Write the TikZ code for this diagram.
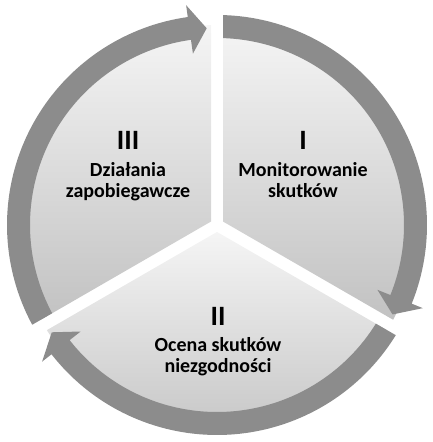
\documentclass[tikz,border=0pt]{standalone}
\usepackage{fontspec}
\setmainfont{Carlito}

\begin{document}
\begin{tikzpicture}[x=1pt,y=1pt]
  \tikzset{
    sektor/.style={
      top color=black!4,
      bottom color=black!24,
      draw=none
    },
    strzalka/.style={
      fill=black!45,
      draw=none
    },
    numer/.style={
      font=\bfseries\fontsize{28}{28}\selectfont,
      anchor=base,
      inner sep=0pt
    },
    opis/.style={
      font=\bfseries\fontsize{20}{21.5}\selectfont,
      align=center,
      anchor=base,
      inner sep=0pt
    }
  }

  \useasboundingbox (0,0) rectangle (433,442);
  \coordinate (S) at (217,217);

  % trzy wycinki kola
  \foreach \a in {90,-30,210} {
    \path[sektor] ([shift={(S)}]\a-60:6.93) -- ([shift={(S)}]\a-1.72:200)
      arc[start angle=\a-1.72, end angle=\a-118.28, radius=200] -- cycle;
  }

  % strzalki dookola
  \foreach \a in {90,-30,210} {
    \path[strzalka] ([shift={(S)}]\a-1.64:210)
      arc[start angle=\a-1.64, end angle=\a-112, radius=210]
      -- ([shift={(S)}]\a-112:222) -- ([shift={(S)}]\a-117:197)
      -- ([shift={(S)}]\a-112:173) -- ([shift={(S)}]\a-112:187)
      arc[start angle=\a-112, end angle=\a-1.84, radius=187] -- cycle;
  }

  \node[numer] (nI) at (303,292) {I};
  \node[opis] (tI) at (303,244) {Monitorowanie\\skutków};
  \node[numer] (nII) at (218,116) {II};
  \node[opis] (tII) at (218,69) {Ocena skutków\\niezgodności};
  \node[numer] (nIII) at (128,292) {III};
  \node[opis] (tIII) at (128,244) {Działania\\zapobiegawcze};
\end{tikzpicture}
\end{document}
